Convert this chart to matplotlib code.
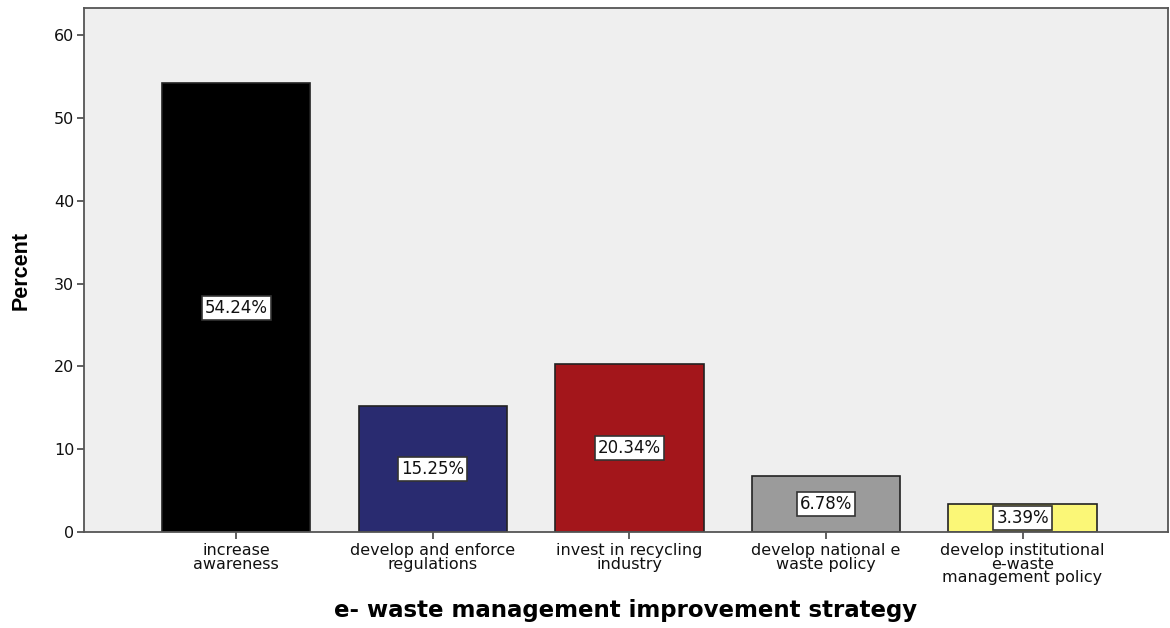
import numpy as np
import matplotlib.pyplot as plt

# data
categories = ["increase\nawareness", "develop and enforce\nregulations",
              "invest in recycling\nindustry", "develop national e\nwaste policy",
              "develop institutional\ne-waste\nmanagement policy"]
percent = [54.24, 15.25, 20.34, 6.78, 3.39]
colors = ["#000000", "#292b70", "#a3161b", "#9b9b9b", "#fbf777"]

fig = plt.figure(figsize=(11.7, 6.28), dpi=100)
ax = fig.add_axes([0.0718, 0.153, 0.9265, 0.834])
ax.set_facecolor("#efefef")

x = np.arange(len(percent))
ax.bar(x, percent, width=0.755, color=colors, edgecolor="#222222", linewidth=1.2)

for xi, v in zip(x, percent):
    ax.text(xi, v / 2, f"{v:.2f}%", ha="center", va="center", fontsize=12,
            family="DejaVu Sans", color="#111111",
            bbox=dict(boxstyle="square,pad=0.18", fc="white", ec="#333333", lw=1.2))

ax.set_xlim(-0.774, 4.74)
ax.set_ylim(0, 63.3)
ax.set_yticks([0, 10, 20, 30, 40, 50, 60])
ax.set_xticks(x)
ax.set_xticklabels(categories, family="DejaVu Sans", fontsize=11.5, linespacing=0.88,
                   color="#111111")
for lab in ax.get_yticklabels():
    lab.set_family("DejaVu Sans")
    lab.set_fontsize(11.5)
    lab.set_color("#111111")
ax.tick_params(axis="both", direction="out", length=5, width=1.2, color="#444444")
ax.tick_params(axis="y", pad=2)
ax.tick_params(axis="x", pad=3)
for s in ax.spines.values():
    s.set_color("#555555")
    s.set_linewidth(1.3)

ax.set_ylabel("Percent", family="Liberation Sans", fontweight="bold", fontsize=15.5)
ax.yaxis.set_label_coords(-0.048, 0.5)
ax.set_xlabel("e- waste management improvement strategy", family="DejaVu Sans",
              fontweight="bold", fontsize=16.5, labelpad=10)

fig.savefig("out.png", dpi=100)
